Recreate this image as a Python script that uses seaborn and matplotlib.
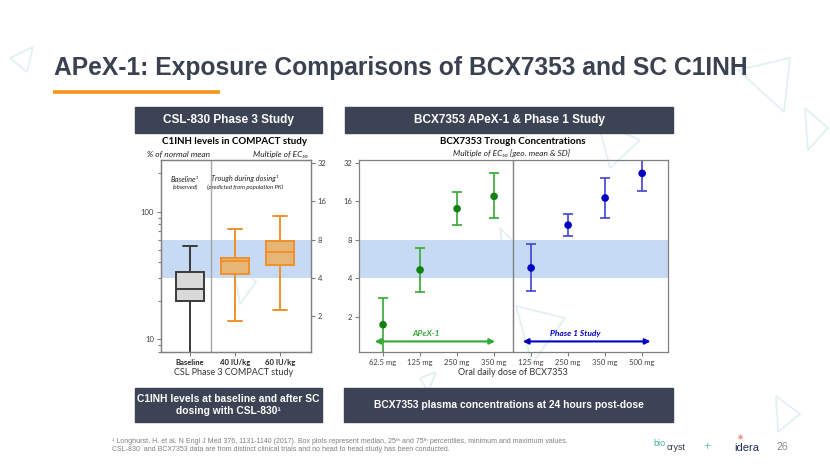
import matplotlib

matplotlib.use("Agg")
import matplotlib.pyplot as plt
import numpy as np
import pandas as pd
import seaborn as sns
from matplotlib.patches import Polygon, Rectangle
from matplotlib.ticker import NullLocator

# left panel: C1INH levels, % of normal mean (min, q1, median, q3, max)
box_groups = ["Baseline", "40 IU/kg", "60 IU/kg"]
box_min = [6.0, 14.0, 17.0]
box_q1 = [20.1, 32.5, 38.2]
box_med = [24.9, 40.8, 48.1]
box_q3 = [33.7, 43.6, 59.3]
box_max = [53.9, 72.8, 93.0]

# right panel: BCX7353 trough, multiple of EC50 (geo. mean and SD range)
dose_labels = ["62.5 mg", "125 mg", "250 mg", "350 mg", "125 mg", "250 mg", "350 mg", "500 mg"]
study = ["APeX-1"] * 4 + ["Phase 1"] * 4
geo_mean = [1.73, 4.64, 13.98, 17.45, 4.81, 10.4, 16.95, 26.4]
sd_low = [0.9, 3.14, 10.48, 11.8, 3.18, 8.49, 11.8, 19.3]
sd_high = [2.80, 6.84, 18.75, 26.4, 7.40, 12.8, 24.3, 34.0]

ec50_ticks = [2, 4, 8, 16, 32]
target_band = (4, 8)
ec50_ratio = 7.55  # % of normal mean per multiple of EC50

W, H = 830, 467
DARK = "#3b4354"
BAND = "#c6daf4"
GREEN, GREEN_BAR = "#148014", "#35a835"
BLUE, BLUE_BAR = "#0000c0", "#4242d2"
SLIDE_FONT = ["Liberation Sans", "DejaVu Sans"]
CHART_FONT = ["Lato", "DejaVu Sans"]

sns.set_theme(style="ticks")
plt.rcParams["font.family"] = CHART_FONT

fig = plt.figure(figsize=(W / 100, H / 100), dpi=100)
fig.patch.set_facecolor("white")


def rect(x0, y0, x1, y1):
    return [x0 / W, 1 - y1 / H, (x1 - x0) / W, (y1 - y0) / H]


bg = fig.add_axes([0, 0, 1, 1])
bg.set_xlim(0, W)
bg.set_ylim(H, 0)
bg.axis("off")

# faint decorative triangles
for tri in [
    [(33, 47), (10, 58), (27, 72)],
    [(738, 70), (790, 58), (784, 112)],
    [(805, 108), (828, 128), (808, 150)],
    [(776, 396), (800, 414), (778, 432)],
    [(232, 258), (256, 282), (240, 304)],
    [(500, 228), (516, 244), (504, 256)],
    [(516, 306), (565, 318), (532, 364)],
    [(598, 122), (640, 140), (610, 168)],
    [(420, 378), (436, 372), (428, 392)],
]:
    bg.add_patch(Polygon(tri, closed=True, fill=False, ec="#e2f0f2", lw=1.3))

bg.text(54, 74.5, "APeX-1: Exposure Comparisons of BCX7353 and SC C1INH",
        family=SLIDE_FONT, weight="bold", size=17.7, color="#3a4150", va="baseline")
bg.plot([53, 220], [92.3, 92.3], color="#f7941d", lw=2.6, solid_capstyle="butt")

for x0, x1, label in [(135, 322, "CSL-830 Phase 3 Study"),
                      (345, 673, "BCX7353 APeX-1 & Phase 1 Study")]:
    bg.add_patch(Rectangle((x0, 107), x1 - x0, 26, color=DARK))
    bg.text((x0 + x1) / 2, 120.5, label, family=SLIDE_FONT, weight="bold",
            size=8.5, color="white", ha="center", va="center")

for x0, x1, label in [(135, 322, "C1INH levels at baseline and after SC\ndosing with CSL-830\u00b9"),
                      (344, 673, "BCX7353 plasma concentrations at 24 hours post-dose")]:
    bg.add_patch(Rectangle((x0, 388), x1 - x0, 34, color=DARK))
    bg.text((x0 + x1) / 2, 405.5, label, family=SLIDE_FONT, weight="bold", size=7.4,
            color="white", ha="center", va="center", linespacing=1.25)

bg.text(112, 441.7,
        "\u00b9 Longhurst, H. et al. N Engl J Med 376, 1131-1140 (2017). Box plots represent median, "
        "25\u1d57\u02b0 and 75\u1d57\u02b0 percentiles, minimum and maximum values.",
        family=SLIDE_FONT, size=5, color="#7f7f7f", va="center")
bg.text(112, 449.5,
        "CSL-830  and BCX7353 data are from distinct clinical trials and no head to head study has been conducted.",
        family=SLIDE_FONT, size=5, color="#7f7f7f", va="center")

bg.text(653, 443, "bio", family=SLIDE_FONT, size=6.5, color="#4fb0a4", va="center")
bg.text(667, 448, "cryst", family=SLIDE_FONT, size=6.5, color="#2f3a45", va="center")
bg.text(707, 447, "+", family=SLIDE_FONT, size=9, color="#6fc0b6", va="center", ha="center")
bg.text(740, 438, "\u2733", family=["DejaVu Sans"], size=6, color="#e8482c", va="center", ha="center")
bg.text(734, 448, "idera", family=SLIDE_FONT, size=8, color="#1f2a5a", va="center")
bg.text(776, 447, "26", family=SLIDE_FONT, size=7.5, color="#8a8a8a", va="center")

# chart titles and labels
bg.text(234, 141.5, "C1INH levels in COMPACT study", weight="bold", size=7,
        ha="center", va="center", color="black")
bg.text(147, 154, "% of normal mean", style="italic", size=6, va="center", color="#222222")
bg.text(253, 154, "Multiple of EC\u2085\u2080", style="italic", size=6, va="center", color="#222222")
bg.text(185, 179, "Baseline\u00b9", style="italic", size=5.3, ha="center", va="center", color="#222222")
bg.text(185, 187, "(observed)", style="italic", size=4.3, ha="center", va="center", color="#222222")
bg.text(245, 179, "Trough during dosing\u00b9", style="italic", size=5.3, ha="center", va="center", color="#222222")
bg.text(245, 187, "(predicted from population PK)", style="italic", size=4.3, ha="center", va="center",
        color="#222222")
bg.text(234, 372.7, "CSL Phase 3 COMPACT study", size=6.5, ha="center", va="center", color="#333333")

bg.text(513, 141.7, "BCX7353 Trough Concentrations", weight="bold", size=7,
        ha="center", va="center", color="black")
bg.text(511, 153, "Multiple of EC\u2085\u2080 [geo. mean & SD]", style="italic", size=6,
        ha="center", va="center", color="#222222")
bg.text(513, 372.3, "Oral daily dose of BCX7353", size=6.5, ha="center", va="center", color="#333333")


def style_axes(ax):
    ax.set_facecolor("none")
    for side in ax.spines.values():
        side.set_color("#808080")
        side.set_linewidth(0.9)
    ax.tick_params(which="both", labelsize=5.5, labelcolor="#404040", color="#808080",
                   length=3, width=0.8, pad=2)
    ax.tick_params(which="minor", length=2)
    ax.set_xlabel("")
    ax.set_ylabel("")


# ---- left panel: box plots ----
axL = fig.add_axes(rect(160.7, 160, 310.7, 351.7))
axL.set_yscale("log")
box_df = pd.DataFrame({
    "group": np.repeat(box_groups, 5),
    "value": np.column_stack([box_min, box_q1, box_med, box_q3, box_max]).ravel(),
})
axL.axhspan(target_band[0] * ec50_ratio, target_band[1] * ec50_ratio, color=BAND, lw=0, zorder=0)
for subset, face, edge in [(["Baseline"], "#d9d9d9", "#3a3a3a"),
                           (["40 IU/kg", "60 IU/kg"], "#e6b677", "#f0902c")]:
    sns.boxplot(data=box_df[box_df["group"].isin(subset)], x="group", y="value", order=box_groups,
                whis=(0, 100), width=0.64, color=face, linecolor=edge, linewidth=1.4,
                saturation=1, ax=axL)
axL.axvline(0.47, color="#a6a6a6", lw=1)
axL.set_xlim(-0.65, 2.68)
axL.set_ylim(8.0, 254)
axL.set_yticks([10, 100], ["10", "100"])
style_axes(axL)
for lbl in axL.get_xticklabels():
    lbl.set_fontweight("bold")
    lbl.set_color("#222222")

axL2 = axL.twinx()
axL2.set_yscale("log")
axL2.set_ylim(8.0 / ec50_ratio, 254 / ec50_ratio)
axL2.set_yticks(ec50_ticks, [str(t) for t in ec50_ticks])
axL2.yaxis.set_minor_locator(NullLocator())
style_axes(axL2)

# ---- right panel: geo. mean and SD ----
axR = fig.add_axes(rect(359, 160, 667.7, 351.7))
axR.set_yscale("log", base=2)
trough_df = pd.DataFrame({
    "pos": np.arange(len(dose_labels)), "study": study,
    "mean": geo_mean, "low": sd_low, "high": sd_high,
})
axR.axhspan(*target_band, color=BAND, lw=0, zorder=0)
for name, bar_color in [("APeX-1", GREEN_BAR), ("Phase 1", BLUE_BAR)]:
    sub = trough_df[trough_df["study"] == name]
    axR.errorbar(sub["pos"], sub["mean"],
                 yerr=[sub["mean"] - sub["low"], sub["high"] - sub["mean"]],
                 fmt="none", ecolor=bar_color, elinewidth=1.2, capsize=3.5, capthick=1.2)
sns.scatterplot(data=trough_df, x="pos", y="mean", hue="study",
                palette={"APeX-1": GREEN, "Phase 1": BLUE}, s=30, edgecolor="none",
                legend=False, ax=axR, zorder=3)
axR.axvline(3.5, color="#808080", lw=1)

axR.annotate("", xy=(3.1, 1.28), xytext=(-0.3, 1.28),
             arrowprops=dict(arrowstyle="<|-|>", color=GREEN_BAR, lw=1.5, mutation_scale=8))
axR.annotate("", xy=(7.3, 1.28), xytext=(3.7, 1.28),
             arrowprops=dict(arrowstyle="<|-|>", color=BLUE, lw=1.5, mutation_scale=8))
axR.text(1.16, 1.48, "APeX-1", color=GREEN_BAR, style="italic", weight="bold", size=6,
         ha="center", va="center")
axR.text(5.19, 1.48, "Phase 1 Study", color=BLUE, style="italic", weight="bold", size=6,
         ha="center", va="center")

axR.set_xlim(-0.65, 7.69)
axR.set_ylim(1.064, 33.6)
axR.set_xticks(trough_df["pos"], dose_labels)
axR.set_yticks(ec50_ticks, [str(t) for t in ec50_ticks])
axR.yaxis.set_minor_locator(NullLocator())
style_axes(axR)

fig.savefig("out.png", dpi=100)
